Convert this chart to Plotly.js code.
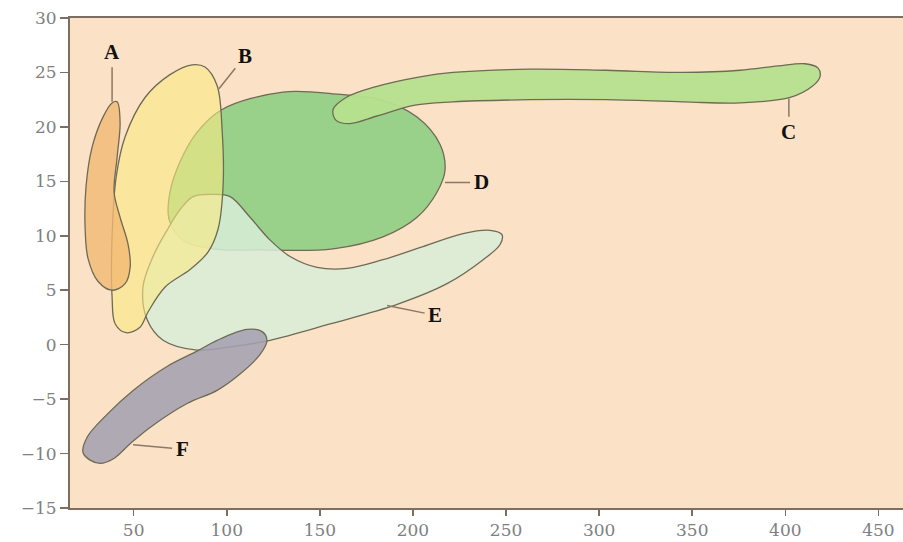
<!DOCTYPE html>
<html>
<head>
<meta charset="utf-8">
<script src="https://cdn.plot.ly/plotly-3.0.1.min.js"></script>
<style>html,body{margin:0;padding:0;background:#fff;}#chart{width:903px;height:542px;}</style>
</head>
<body>
<div id="chart"></div>
<script>
// Region outlines: x = precipitation, y = temperature
var aPrecip = [41.1, 42.7, 41.1, 39.5, 42.7, 47.0, 48.1, 45.4, 38.4, 30.9, 25.5, 23.9, 24.4, 27.6, 33.5, 38.4, 41.1];
var aTemp   = [22.3, 20.4, 17.2, 14.0, 11.7, 9.2, 7.1, 5.6, 5.0, 5.8, 7.9, 10.8, 14.5, 18.1, 20.9, 22.2, 22.3];

var bPrecip = [81.4, 88.3, 94.8, 97.5, 98.0, 95.3, 89.9, 80.3, 66.9, 57.7, 53.4, 46.0, 40.1, 38.4, 38.4, 40.6, 45.4, 56.1, 69.5, 81.4];
var bTemp   = [25.7, 25.5, 23.8, 19.7, 14.5, 10.6, 8.5, 6.9, 5.3, 3.0, 1.6, 1.1, 1.9, 4.4, 9.9, 15.4, 19.1, 22.7, 24.8, 25.7];

var cPrecip = [157.1, 164.1, 180.2, 203.8, 221.5, 262.9, 303.7, 345.1, 375.7, 396.1, 410.6, 417.6, 418.6, 414.3, 402.6, 375.7, 345.1, 303.7, 262.9, 221.5, 201.1, 180.7, 166.2, 158.7, 157.1];
var cTemp   = [21.6, 22.7, 23.7, 24.6, 25.0, 25.3, 25.2, 25.0, 25.2, 25.6, 25.8, 25.4, 24.6, 23.7, 22.7, 22.2, 22.3, 22.5, 22.5, 22.3, 22.0, 21.0, 20.3, 20.6, 21.6];

var dPrecip = [97.5, 130.2, 159.2, 182.3, 202.2, 214.5, 217.2, 212.9, 202.2, 183.9, 157.1, 117.9, 92.6, 76.5, 69.0, 69.5, 74.9, 84.0, 97.5];
var dTemp   = [21.6, 23.2, 23.0, 22.5, 20.9, 18.4, 16.0, 14.0, 11.7, 9.9, 8.8, 8.7, 8.8, 9.6, 11.5, 14.0, 16.8, 19.5, 21.6];

var ePrecip = [55.0, 57.2, 65.8, 84.0, 101.8, 123.3, 155.5, 191.5, 218.3, 237.7, 246.8, 247.8, 241.4, 226.9, 205.4, 183.9, 164.6, 148.5, 134.0, 123.3, 112.5, 101.8, 92.6, 81.9, 74.9, 67.9, 60.4, 55.0];
var eTemp   = [5.3, 2.3, 0.4, -0.5, -0.2, 0.4, 1.9, 3.7, 5.6, 7.8, 9.2, 10.1, 10.5, 10.2, 9.0, 7.8, 7.0, 7.1, 8.1, 9.6, 11.7, 13.6, 13.8, 13.6, 12.4, 10.5, 8.1, 5.3];

var fPrecip = [121.6, 119.0, 110.9, 94.8, 84.0, 67.9, 49.7, 35.7, 25.0, 22.8, 26.6, 32.0, 38.9, 48.1, 58.8, 78.7, 94.8, 107.1, 117.9, 121.6];
var fTemp   = [0.4, 1.2, 1.4, 0.4, -0.6, -2.0, -4.2, -6.4, -8.5, -9.9, -10.6, -10.9, -10.5, -9.1, -7.6, -5.4, -4.2, -2.7, -0.9, 0.4];

// Labels: text, label position, leader tip
var labelText  = ['A', 'B', 'C', 'D', 'E', 'F'];
var labelX     = [38.4, 109.8, 401.9, 236.6, 211.9, 76.0];
var labelY     = [26.9, 26.5, 19.5, 14.9, 2.7, -9.6];
var tipX       = [38.4, 95.8, 401.9, 217.2, 186.1, 49.7];
var tipY       = [22.3, 23.5, 22.6, 14.9, 3.6, -9.2];

var xTicks = [50, 100, 150, 200, 250, 300, 350, 400, 450];
var yTicks = [-15, -10, -5, 0, 5, 10, 15, 20, 25, 30];

var outline = '#6e6a55';
function region(x, y, fill) {
  return {
    x: x, y: y, type: 'scatter', mode: 'lines', fill: 'toself',
    fillcolor: fill, hoverinfo: 'skip',
    line: {color: outline, width: 1.3, shape: 'spline', smoothing: 1.0}
  };
}

var traces = [
  region(dPrecip, dTemp, 'rgba(148,208,136,0.95)'),
  region(cPrecip, cTemp, 'rgba(182,224,142,0.95)'),
  region(ePrecip, eTemp, 'rgba(216,237,216,0.85)'),
  region(bPrecip, bTemp, 'rgba(250,234,130,0.6)'),
  region(aPrecip, aTemp, 'rgba(243,185,115,0.8)'),
  region(fPrecip, fTemp, 'rgba(164,161,178,0.88)')
];

var annotations = labelText.map(function (t, i) {
  return {
    x: tipX[i], y: tipY[i], xref: 'x', yref: 'y',
    ax: labelX[i], ay: labelY[i], axref: 'x', ayref: 'y',
    text: '<b>' + t + '</b>', showarrow: true, arrowhead: 0,
    arrowwidth: 1.5, arrowcolor: '#8a7866', standoff: 0, startstandoff: 2,
    font: {family: 'Liberation Serif, serif', size: 21, color: '#111'}
  };
});

var axisCommon = {
  showgrid: false, zeroline: false, showline: true,
  linecolor: '#7d6e62', linewidth: 2,
  ticks: 'outside', tickwidth: 1.5, tickcolor: '#7d6e62',
  tickfont: {family: 'DejaVu Serif, serif', size: 17, color: '#808080'}
};

var layout = {
  width: 903, height: 542,
  margin: {l: 70, r: 0, t: 18, b: 34},
  paper_bgcolor: '#ffffff',
  plot_bgcolor: '#fbe2c6',
  showlegend: false,
  xaxis: Object.assign({}, axisCommon, {range: [15.8, 463.2], tickmode: 'array', tickvals: xTicks, mirror: true, ticklen: 6}),
  yaxis: Object.assign({}, axisCommon, {range: [-15, 30], tickmode: 'array', tickvals: yTicks, mirror: false, ticklen: 8}),
  annotations: annotations
};

Plotly.newPlot('chart', traces, layout, {displayModeBar: false, staticPlot: true});
</script>
</body>
</html>
